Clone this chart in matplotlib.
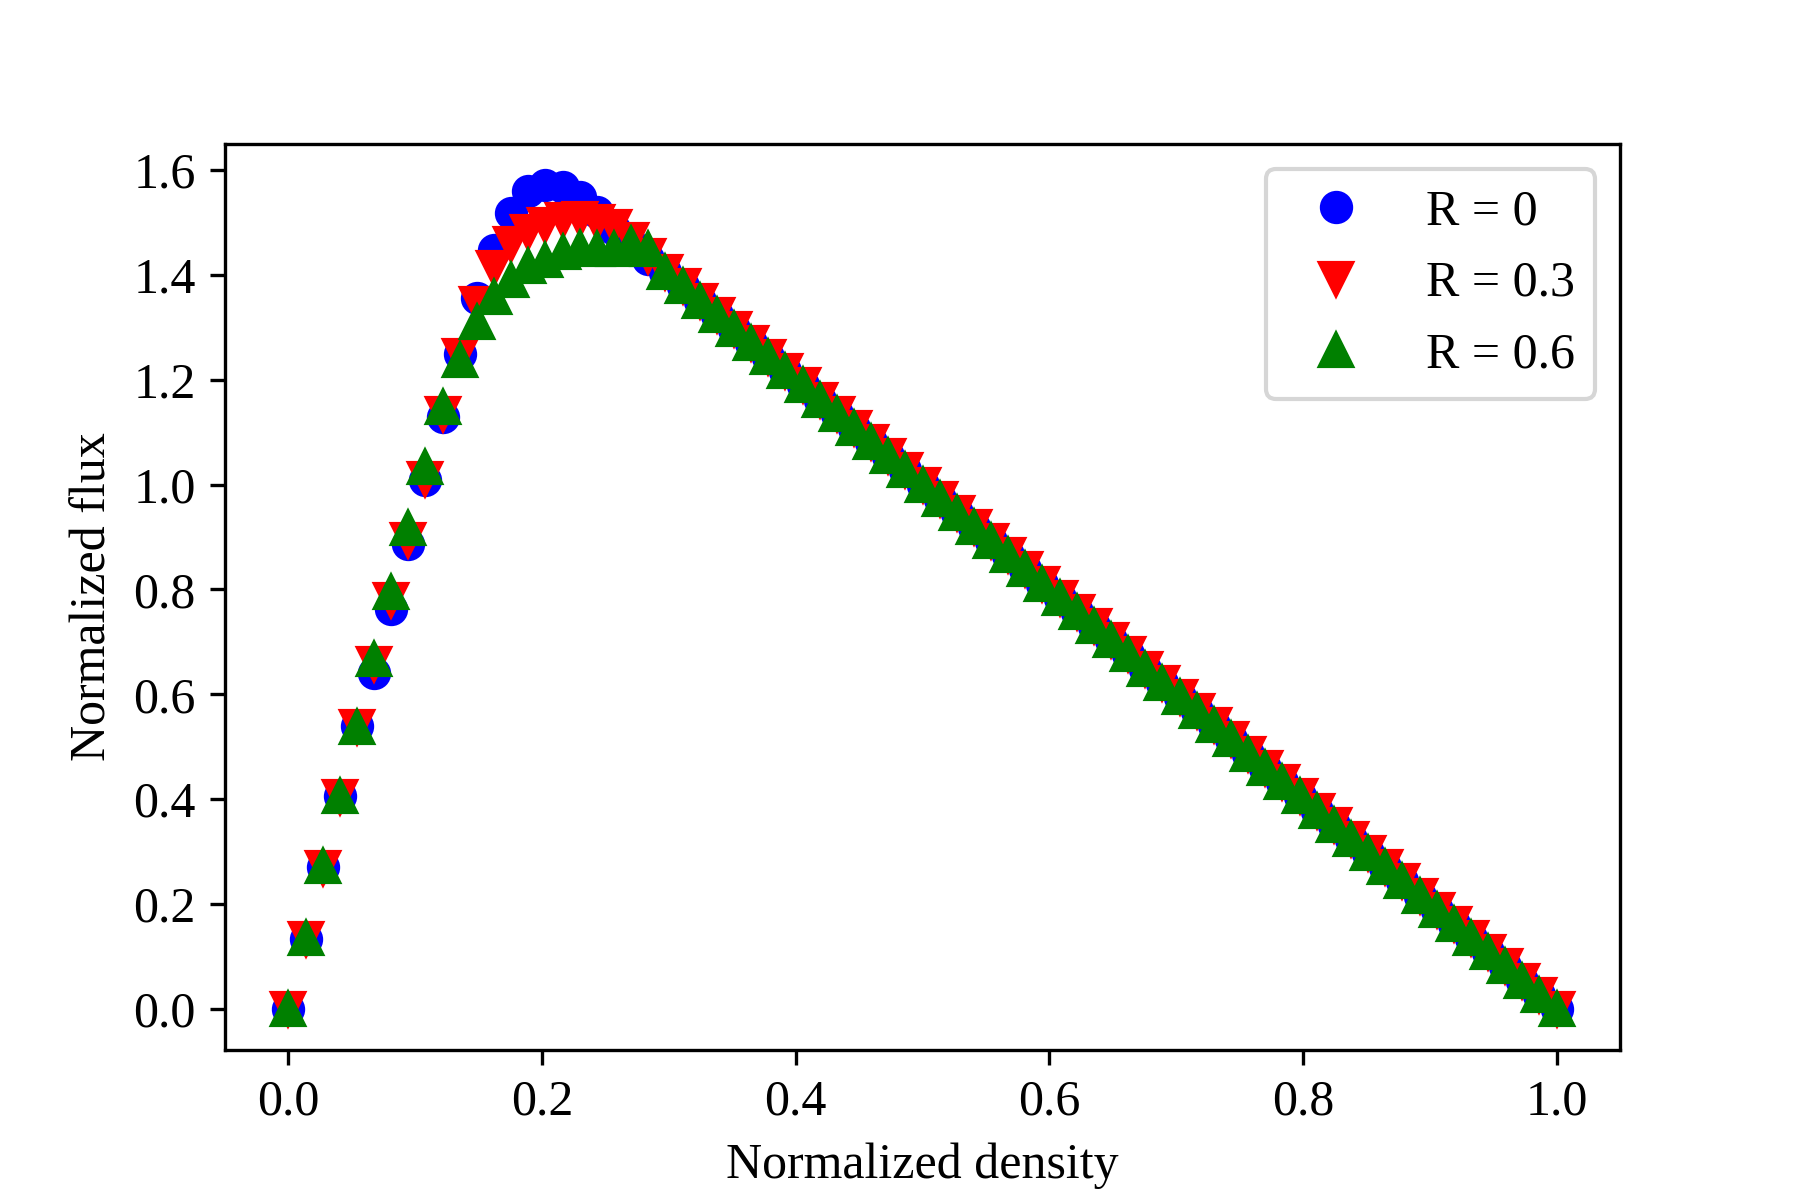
import matplotlib
matplotlib.use('Agg')
import matplotlib.pyplot as plt

# Normalized density grid (75 sites)
density = [0.0000, 0.0135, 0.0270, 0.0405, 0.0541, 0.0676, 0.0811, 0.0946, 0.1081, 0.1216,
           0.1351, 0.1486, 0.1622, 0.1757, 0.1892, 0.2027, 0.2162, 0.2297, 0.2432, 0.2568,
           0.2703, 0.2838, 0.2973, 0.3108, 0.3243, 0.3378, 0.3514, 0.3649, 0.3784, 0.3919,
           0.4054, 0.4189, 0.4324, 0.4459, 0.4595, 0.4730, 0.4865, 0.5000, 0.5135, 0.5270,
           0.5405, 0.5541, 0.5676, 0.5811, 0.5946, 0.6081, 0.6216, 0.6351, 0.6486, 0.6622,
           0.6757, 0.6892, 0.7027, 0.7162, 0.7297, 0.7432, 0.7568, 0.7703, 0.7838, 0.7973,
           0.8108, 0.8243, 0.8378, 0.8514, 0.8649, 0.8784, 0.8919, 0.9054, 0.9189, 0.9324,
           0.9459, 0.9595, 0.9730, 0.9865, 1.0000]

# Flux for the first 22 densities, one list per R
head_r0 = [0.0, 0.134, 0.270, 0.405, 0.539, 0.640, 0.762, 0.886, 1.008, 1.129, 1.249,
           1.356, 1.447, 1.518, 1.559, 1.571, 1.568, 1.549, 1.520, 1.487, 1.459, 1.430]
head_r3 = [0.0, 0.133, 0.268, 0.404, 0.538, 0.658, 0.780, 0.894, 1.010, 1.134, 1.246,
           1.345, 1.413, 1.459, 1.482, 1.496, 1.504, 1.506, 1.500, 1.491, 1.466, 1.436]
head_r6 = [0.0, 0.136, 0.272, 0.405, 0.538, 0.668, 0.795, 0.917, 1.034, 1.148, 1.237,
           1.310, 1.358, 1.391, 1.417, 1.428, 1.443, 1.451, 1.450, 1.449, 1.458, 1.449]

# Congested branch, the same for all three curves
flux_tail = [1.405, 1.378, 1.351, 1.324, 1.297, 1.270, 1.243, 1.216, 1.189, 1.162,
             1.135, 1.108, 1.081, 1.054, 1.027, 1.000, 0.973, 0.946, 0.919, 0.892,
             0.865, 0.838, 0.811, 0.784, 0.757, 0.730, 0.703, 0.676, 0.649, 0.622,
             0.595, 0.568, 0.541, 0.514, 0.486, 0.459, 0.432, 0.405, 0.378, 0.351,
             0.324, 0.297, 0.270, 0.243, 0.216, 0.189, 0.162, 0.135, 0.108, 0.081,
             0.054, 0.027, 0.000]

flux_r0 = head_r0 + flux_tail
flux_r3 = head_r3 + flux_tail
flux_r6 = head_r6 + flux_tail

plt.rcParams['font.family'] = 'serif'
plt.rcParams['font.serif'] = ['Times New Roman', 'Liberation Serif', 'DejaVu Serif']
plt.rcParams['font.size'] = 12

fig, ax = plt.subplots(figsize=(6, 4))
fig.subplots_adjust(left=0.125, right=0.9, top=0.88, bottom=0.125)

ax.plot(density, flux_r0, 'bo', markersize=7, label='R = 0')
ax.plot(density, flux_r3, 'rv', markersize=7.5, label='R = 0.3')
ax.plot(density, flux_r6, 'g^', markersize=7.5, label='R = 0.6')

ax.set_xlabel('Normalized density')
ax.set_ylabel('Normalized flux')
ax.legend(loc='upper right')

plt.savefig('out.png', dpi=300)
